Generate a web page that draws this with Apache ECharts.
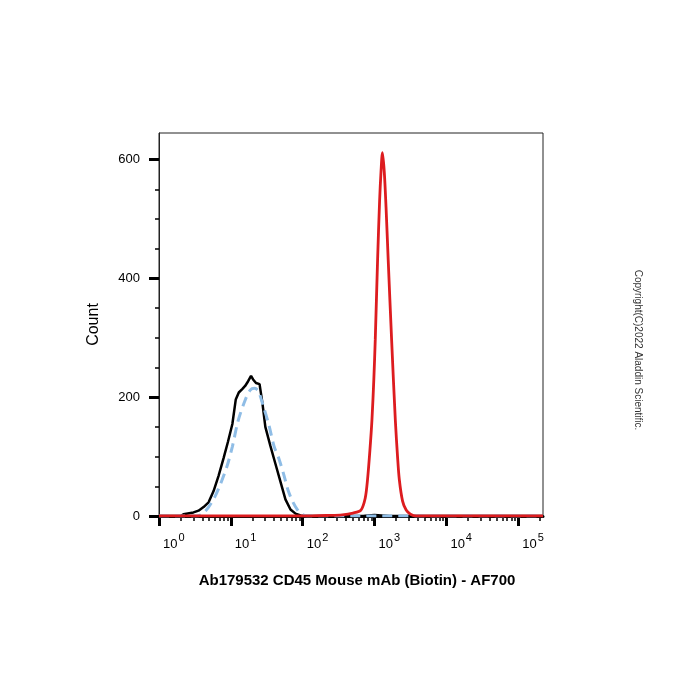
<!DOCTYPE html>
<html>
<head>
<meta charset="utf-8">
<script src="https://cdn.jsdelivr.net/npm/echarts@6/dist/echarts.min.js"></script>
<style>
  html, body { margin: 0; padding: 0; background: #fff; }
  #main { width: 700px; height: 700px; }
</style>
</head>
<body>
<div id="main"></div>
<script>
// AF700 intensity (log axis) vs count
var blackX = [1, 2.0, 2.19, 3.02, 3.55, 4.17, 4.90, 5.75, 6.76, 7.94, 9.12, 10.5, 11.7, 12.9, 14.5, 15.8, 17.4, 19.1, 20.4, 22.4, 25.1, 27.5, 30.2, 35.5, 41.7, 49.0, 57.5, 67.6, 79.4, 93.3, 107, 700, 800, 1000, 1250, 1600, 221000];
var blackY = [0, 0, 3, 6, 9, 15, 23, 42, 68, 98, 125, 155, 196, 208, 214, 219, 227, 236, 230, 224, 222, 190, 150, 118, 88, 58, 28, 11, 4, 1, 0, 0, 1, 1.5, 1, 0, 0];

var blueX = [1, 3.31, 3.98, 4.90, 6.03, 7.24, 8.91, 10.5, 12.6, 15.8, 18.6, 21.4, 24.0, 27.5, 33.9, 39.8, 46.8, 55.0, 63.1, 74.1, 85.1, 97.7, 115, 221000];
var blueY = [0, 0, 3, 15, 33, 55, 85, 117, 160, 195, 212, 215, 211, 190, 153, 118, 96, 68, 42, 22, 10, 3, 0, 0];

var redX = [1, 100, 234, 355, 501, 646, 741, 798, 861, 920, 977, 1023, 1102, 1175, 1230, 1288, 1365, 1445, 1549, 1727, 1945, 2089, 2213, 2455, 2754, 3162, 3802, 221000];
var redY = [0, 0, 1, 2, 5, 10, 30, 61, 110, 162, 230, 297, 431, 530, 580, 612, 580, 520, 431, 297, 162, 100, 61, 25, 10, 3, 0, 0];

// axis ticks
var xMajor = [1, 10, 100, 1000, 10000, 100000];
var xMantissa = [2, 3, 4, 5, 6, 7, 8, 9];
var yMajor = [0, 200, 400, 600];
var yMinor = [50, 100, 150, 250, 300, 350, 450, 500, 550];

var X_MAX = 221000;
var Y_MAX = 645;

var xMinor = [];
xMajor.forEach(function (d) {
  xMantissa.forEach(function (m) {
    if (m * d <= X_MAX) xMinor.push(m * d);
  });
});

function pairs(xs, ys) {
  return xs.map(function (x, i) { return [x, ys[i]]; });
}

var chart = echarts.init(document.getElementById('main'), null, { renderer: 'canvas' });

var font = 'Liberation Sans, Arial, sans-serif';

var option = {
  backgroundColor: '#fff',
  animation: false,
  grid: {
    left: 159, top: 133, right: 157, bottom: 184,
    show: true,
    borderColor: '#222',
    borderWidth: 1
  },
  xAxis: [{
    type: 'log',
    logBase: 10,
    min: 1,
    max: X_MAX,
    position: 'bottom',
    name: 'Ab179532 CD45 Mouse mAb (Biotin) - AF700',
    nameLocation: 'middle',
    nameGap: 57,
    nameTextStyle: {
      fontFamily: font, fontSize: 15, fontWeight: 'bold', color: '#000',
      padding: [0, 0, 0, 12]
    },
    axisLine: { show: true, lineStyle: { color: '#000', width: 3 } },
    axisTick: { show: true, customValues: xMajor, length: 10, lineStyle: { color: '#000', width: 3 } },
    axisLabel: {
      customValues: xMajor,
      margin: 14,
      align: 'left',
      formatter: function (v) {
        return '{b|10}{s|' + Math.round(Math.log10(v)) + '}';
      },
      rich: {
        b: { fontFamily: font, fontSize: 13, color: '#000', padding: [8, 0, 0, 4] },
        s: { fontFamily: font, fontSize: 11, color: '#000', padding: [0, 0, 6, 1] }
      }
    },
    splitLine: { show: false }
  }, {
    type: 'log',
    logBase: 10,
    min: 1,
    max: X_MAX,
    position: 'bottom',
    axisLine: { show: false },
    axisTick: { show: true, customValues: xMinor, length: 5, lineStyle: { color: '#000', width: 1.5 } },
    axisLabel: { show: false },
    splitLine: { show: false }
  }],
  yAxis: [{
    type: 'value',
    min: 0,
    max: Y_MAX,
    position: 'left',
    name: 'Count',
    nameLocation: 'middle',
    nameGap: 57,
    nameRotate: 90,
    nameTextStyle: { fontFamily: font, fontSize: 16, color: '#000' },
    axisLine: { show: true, lineStyle: { color: '#222', width: 1 } },
    axisTick: { show: true, customValues: yMajor, length: 10, lineStyle: { color: '#000', width: 3 } },
    axisLabel: {
      customValues: yMajor,
      margin: 19,
      fontFamily: font, fontSize: 13, color: '#000'
    },
    splitLine: { show: false }
  }, {
    type: 'value',
    min: 0,
    max: Y_MAX,
    position: 'left',
    axisLine: { show: false },
    axisTick: { show: true, customValues: yMinor, length: 4, lineStyle: { color: '#000', width: 1.5 } },
    axisLabel: { show: false },
    splitLine: { show: false }
  }],
  graphic: [{
    type: 'text',
    x: 638,
    y: 350,
    rotation: -Math.PI / 2,
    style: {
      text: 'Copyright(C)2022 Aladdin Scientific.',
      fontFamily: font,
      fontSize: 10,
      fill: '#333',
      align: 'center',
      verticalAlign: 'middle'
    }
  }],
  series: [{
    name: 'control',
    type: 'line',
    data: pairs(blackX, blackY),
    symbol: 'none',
    smooth: false,
    lineStyle: { color: '#000', width: 2.5 },
    z: 2
  }, {
    name: 'isotype',
    type: 'line',
    data: pairs(blueX, blueY),
    symbol: 'none',
    smooth: 0.3,
    lineStyle: { color: '#8fbde6', width: 3, type: [10, 6] },
    z: 3
  }, {
    name: 'CD45',
    type: 'line',
    data: pairs(redX, redY),
    symbol: 'none',
    smooth: 0.3,
    lineStyle: { color: '#dd1c1f', width: 2.8 },
    z: 4
  }]
};

chart.setOption(option);
</script>
</body>
</html>
